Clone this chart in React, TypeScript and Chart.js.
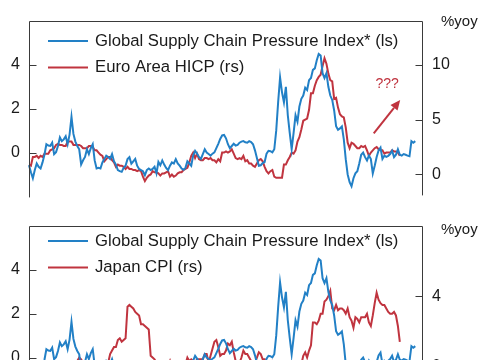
import React, { useEffect, useRef } from 'react';
import { Chart, registerables } from 'chart.js';

Chart.register(...registerables);

// ---------- data ----------
const START_YEAR = 2010;
const N_MONTHS = 205;
const months: string[] = [];
for (let k = 0; k < N_MONTHS; k++) {
  months.push(`${START_YEAR + Math.floor(k / 12)}-${String((k % 12) + 1).padStart(2, '0')}`);
}

// Global Supply Chain Pressure Index (advanced), left scale
const gscpi = [
  -0.58, -0.9, -1.17, -0.8, -0.5, -0.65, -0.73, -0.45, -0.1, 0.38,
  0.32, 0.3, 0.45, -0.07, 0.02, 0.3, 0.69, 0.52, 0.6, 0.74,
  0.38, 0.82, 1.63, 0.85, 0.5, 0.3, 0.15, -0.54, -0.35, -0.2,
  0.15, -0.07, 0.2, 0.38, -0.36, -0.73, -0.7, -0.73, -0.45, -0.3,
  -0.14, -0.2, -0.29, -0.07, -0.4, -0.55, -0.8, -0.85, -0.88, -0.7,
  -0.6, -0.3, -0.21, -0.51, -0.4, -0.29, -0.6, -0.75, -0.8, -0.85,
  -1.03, -0.8, -0.73, -0.8, -0.75, -0.65, -0.95, -0.43, -0.58, -0.36,
  -0.55, -0.7, -0.8, -0.6, -0.45, -0.5, -0.3, -0.5, -0.6, -0.73,
  -0.78, -0.7, -0.4, -0.5, -0.6, -0.14, 0.08, -0.05, -0.2, -0.29,
  -0.07, 0.15, 0.0, -0.07, -0.14, -0.05, 0.01, 0.2, 0.4, 0.62,
  0.78, 0.8, 0.65, 0.38, 0.2, 0.3, 0.4, 0.32, 0.35, 0.45,
  0.5, 0.52, 0.47, 0.45, 0.52, 0.48, 0.38, 0.1, -0.25, -0.6,
  -0.58, -0.48, -0.43, -0.05, 0.08, 0.06, 0.01, 0.15, 1.0, 2.3,
  3.43, 2.75, 2.29, 3.0, 1.7, 0.9, 0.15, 0.9, 1.7, 1.41,
  2.1, 2.45, 2.6, 2.96, 2.85, 3.3, 3.4, 3.77, 3.84, 4.21,
  4.5, 4.43, 3.62, 3.4, 3.62, 3.0, 2.6, 2.4, 1.92, 1.2,
  1.04, 1.1, 1.19, 0.6, -0.3, -1.0, -1.35, -1.54, -1.17, -0.95,
  -0.85, -0.5, -0.1, 0.0, -0.21, -0.36, -0.14, -0.3, -0.95, -0.6,
  -0.2, 0.1, 0.23, -0.29, -0.14, -0.2, -0.15, -0.07, 0.08, -0.21,
  -0.1, 0.15, -0.1, -0.14, -0.07, -0.1, -0.14, -0.17, 0.52, 0.45, 0.52,
];

// Euro Area HICP, %yoy, right scale
const euroHicp = [
  0.9, 0.8, 1.6, 1.6, 1.7, 1.5, 1.7, 1.6, 1.9, 1.9, 1.9, 2.2,
  2.3, 2.4, 2.7, 2.8, 2.7, 2.7, 2.6, 2.6, 3.0, 3.0, 3.0, 2.7,
  2.7, 2.7, 2.7, 2.6, 2.4, 2.4, 2.4, 2.6, 2.6, 2.5, 2.2, 2.2,
  2.0, 1.8, 1.7, 1.2, 1.4, 1.6, 1.6, 1.3, 1.1, 0.7, 0.9, 0.8,
  0.8, 0.7, 0.5, 0.7, 0.5, 0.5, 0.4, 0.4, 0.3, 0.4, 0.3, -0.2,
  -0.6, -0.3, -0.1, 0.0, 0.3, 0.2, 0.2, 0.1, -0.1, 0.1, 0.1, 0.2,
  0.3, -0.2, 0.0, -0.2, -0.1, 0.1, 0.2, 0.2, 0.4, 0.5, 0.6, 1.1,
  1.7, 2.0, 1.5, 1.9, 1.4, 1.3, 1.3, 1.5, 1.5, 1.4, 1.5, 1.3,
  1.3, 1.1, 1.4, 1.2, 2.0, 2.0, 2.1, 2.0, 2.1, 2.3, 1.9, 1.5,
  1.4, 1.5, 1.4, 1.7, 1.2, 1.3, 1.0, 1.0, 0.8, 0.7, 1.0, 1.3,
  1.4, 1.2, 0.7, 0.3, 0.1, 0.3, 0.4, -0.2, -0.3, -0.3, -0.3, -0.3,
  0.9, 0.9, 1.3, 1.6, 2.0, 1.9, 2.2, 3.0, 3.4, 4.1, 4.9, 5.0,
  5.1, 5.9, 7.4, 7.4, 8.1, 8.6, 8.9, 9.1, 9.9, 10.6, 10.1, 9.2,
  8.6, 8.5, 6.9, 7.0, 6.1, 5.5, 5.3, 5.2, 4.3, 2.9, 2.4, 2.9,
  2.8, 2.6, 2.4, 2.4, 2.6, 2.5, 2.6, 2.2, 1.7, 2.0, 2.2, 2.4,
  2.5, 2.3, 2.2, 2.2, 1.9, 2.0, 2.0, 2.0, 2.2, 2.1, 2.1, 2.0,
  1.7,
];

// Japan CPI, %yoy, right scale
const japanCpi = [
  -1.3, -1.1, -1.1, -1.2, -0.9, -0.7, -0.9, -0.9, -0.6, 0.2, 0.1, 0.0,
  0.0, 0.0, 0.0, 0.3, 0.3, 0.2, 0.2, 0.2, 0.0, -0.2, -0.5, -0.2,
  0.1, 0.3, 0.5, 0.4, 0.2, -0.2, -0.4, -0.5, -0.3, -0.4, -0.2, -0.1,
  -0.3, -0.7, -0.9, -0.7, -0.3, 0.2, 0.7, 0.9, 1.1, 1.1, 1.5, 1.6,
  1.4, 1.5, 1.6, 3.4, 3.5, 3.4, 3.3, 3.1, 3.0, 2.9, 2.4, 2.4,
  2.3, 2.2, 2.1, 0.6, 0.5, 0.4, 0.2, 0.2, 0.0, 0.3, 0.3, 0.2,
  0.0, 0.3, -0.1, -0.3, -0.5, -0.4, -0.4, -0.5, -0.5, 0.1, 0.5, 0.3,
  0.4, 0.3, 0.2, 0.4, 0.4, 0.4, 0.4, 0.7, 0.7, 0.2, 0.6, 1.0,
  1.4, 1.5, 1.1, 0.6, 0.7, 0.7, 0.9, 1.3, 1.2, 1.4, 0.8, 0.3,
  0.2, 0.2, 0.5, 0.9, 0.7, 0.7, 0.5, 0.3, 0.2, 0.2, 0.5, 0.8,
  0.7, 0.4, 0.4, 0.1, 0.1, 0.1, 0.3, 0.2, 0.0, -0.4, -0.9, -1.2,
  -0.6, -0.4, -0.2, -1.1, -0.8, -0.5, -0.3, -0.4, 0.2, 0.1, 0.6, 0.8,
  0.5, 0.9, 1.2, 2.5, 2.5, 2.4, 2.6, 3.0, 3.0, 3.7, 3.8, 4.0,
  4.3, 3.3, 3.2, 3.5, 3.2, 3.3, 3.3, 3.2, 3.0, 3.3, 2.8, 2.6,
  2.2, 2.8, 2.7, 2.5, 2.8, 2.8, 2.8, 3.0, 2.5, 2.3, 2.9, 3.6,
  4.2, 3.8, 3.6, 3.5, 3.5, 3.3, 3.1, 3.0, 3.0, 3.1, 2.9, 2.3,
  1.4,
];

const leftTicks = [0, 2, 4];
const rightTicksTop = [0, 5, 10];
const rightTicksBottom = [0, 4];

const gscpiLabel = 'Global Supply Chain Pressure Index* (ls)';
const euroLabel = 'Euro Area HICP (rs)';
const japanLabel = 'Japan CPI (rs)';
const yoyLabel = '%yoy';
const questionLabel = '???';

// annotation arrow in data units (x = month index, y = right axis)
const arrowFrom = { x: 178.5, y: 3.75 };
const arrowTo = { x: 192.2, y: 6.8 };
const questionAt = { x: 185.4, y: 8.26 };

// ---------- styles ----------
const BLUE = '#2280c6';
const RED = '#c0343f';
const AXIS = '#3a3a3a';
const TEXT = '#1a1a1a';
const FONT = '"Liberation Sans", Arial, sans-serif';

type PanelProps = {
  redLabel: string;
  redData: number[];
  rightMax: number;
  rightTicks: number[];
  legendTop: number;
  yoyOffset: number;
  annotate: boolean;
};

function makeDecor(p: PanelProps) {
  return {
    id: 'decor',
    afterDraw(chart: any) {
      const { ctx, chartArea: a, scales } = chart;
      const L = Math.round(a.left) + 0.5;
      const R = Math.round(a.right) - 0.5;
      const T = Math.round(a.top) + 0.5;
      ctx.save();
      ctx.strokeStyle = AXIS;
      ctx.lineWidth = 1;
      ctx.beginPath();
      ctx.moveTo(L, T);
      ctx.lineTo(R, T);
      ctx.moveTo(L, T);
      ctx.lineTo(L, a.bottom + 1);
      ctx.moveTo(R, T);
      ctx.lineTo(R, a.bottom - 1);
      scales.yL.ticks.forEach((t: any) => {
        const y = Math.round(scales.yL.getPixelForValue(t.value)) + 0.5;
        ctx.moveTo(L, y);
        ctx.lineTo(L + 7, y);
      });
      scales.yR.ticks.forEach((t: any) => {
        const y = Math.round(scales.yR.getPixelForValue(t.value)) + 0.5;
        ctx.moveTo(R - 7, y);
        ctx.lineTo(R, y);
      });
      ctx.stroke();

      // legend
      const items = [
        { label: gscpiLabel, color: BLUE },
        { label: p.redLabel, color: RED },
      ];
      ctx.font = `16.7px ${FONT}`;
      ctx.textBaseline = 'alphabetic';
      ctx.textAlign = 'left';
      items.forEach((it, k) => {
        const y = a.top + p.legendTop + k * 26.5;
        ctx.strokeStyle = it.color;
        ctx.lineWidth = 2;
        ctx.beginPath();
        ctx.moveTo(a.left + 19, y);
        ctx.lineTo(a.left + 59, y);
        ctx.stroke();
        ctx.fillStyle = TEXT;
        ctx.fillText(it.label, a.left + 66, y + 4.5);
      });

      // unit label
      ctx.font = `15px ${FONT}`;
      ctx.fillStyle = TEXT;
      ctx.fillText(yoyLabel, a.right + 18, a.top + p.yoyOffset);

      if (p.annotate) {
        const x0 = scales.x.getPixelForValue(arrowFrom.x);
        const y0 = scales.yR.getPixelForValue(arrowFrom.y);
        const x1 = scales.x.getPixelForValue(arrowTo.x);
        const y1 = scales.yR.getPixelForValue(arrowTo.y);
        const ang = Math.atan2(y1 - y0, x1 - x0);
        const head = 10;
        const bx = x1 - head * Math.cos(ang);
        const by = y1 - head * Math.sin(ang);
        ctx.strokeStyle = RED;
        ctx.fillStyle = RED;
        ctx.lineWidth = 2;
        ctx.beginPath();
        ctx.moveTo(x0, y0);
        ctx.lineTo(bx, by);
        ctx.stroke();
        ctx.beginPath();
        ctx.moveTo(x1, y1);
        ctx.lineTo(bx + 4.5 * Math.sin(ang), by - 4.5 * Math.cos(ang));
        ctx.lineTo(bx - 4.5 * Math.sin(ang), by + 4.5 * Math.cos(ang));
        ctx.closePath();
        ctx.fill();
        ctx.font = `14px ${FONT}`;
        ctx.textAlign = 'center';
        ctx.textBaseline = 'middle';
        ctx.fillText(
          questionLabel,
          scales.x.getPixelForValue(questionAt.x),
          scales.yR.getPixelForValue(questionAt.y)
        );
      }
      ctx.restore();
    },
  };
}

function Panel(p: PanelProps) {
  const ref = useRef<HTMLCanvasElement>(null);
  useEffect(() => {
    const tickFont = { family: FONT, size: 16 };
    const chart = new Chart(ref.current as HTMLCanvasElement, {
      type: 'line',
      data: {
        labels: months,
        datasets: [
          {
            label: gscpiLabel,
            data: gscpi,
            yAxisID: 'yL',
            borderColor: BLUE,
            borderWidth: 2,
            pointRadius: 0,
            tension: 0,
            fill: false,
          },
          {
            label: p.redLabel,
            data: p.redData,
            yAxisID: 'yR',
            borderColor: RED,
            borderWidth: 2,
            pointRadius: 0,
            tension: 0,
            fill: false,
          },
        ],
      },
      options: {
        responsive: false,
        animation: false,
        events: [],
        layout: { padding: { top: 21, bottom: 11, left: 0, right: 0 } },
        plugins: { legend: { display: false }, tooltip: { enabled: false } },
        scales: {
          x: { type: 'category', display: false },
          yL: {
            position: 'left',
            min: -2,
            max: 6,
            grid: { display: false, drawTicks: false },
            border: { display: false },
            ticks: { padding: 9, font: tickFont, color: TEXT },
            afterBuildTicks: (s: any) => {
              s.ticks = leftTicks.map((v) => ({ value: v }));
            },
            afterFit: (s: any) => {
              s.width = 29;
            },
          },
          yR: {
            position: 'right',
            min: -2,
            max: p.rightMax,
            grid: { display: false, drawTicks: false },
            border: { display: false },
            ticks: { padding: 9, font: tickFont, color: TEXT },
            afterBuildTicks: (s: any) => {
              s.ticks = p.rightTicks.map((v) => ({ value: v }));
            },
            afterFit: (s: any) => {
              s.width = 62;
            },
          },
        },
      } as any,
      plugins: [makeDecor(p)],
    });
    return () => chart.destroy();
  }, []);
  return <canvas ref={ref} width={485} height={215} style={{ display: 'block' }} />;
}

export default function App() {
  return (
    <div
      style={{
        position: 'fixed',
        left: 0,
        top: 0,
        width: 485,
        height: 360,
        overflow: 'hidden',
        background: '#fff',
      }}
    >
      <div style={{ position: 'absolute', left: 0, top: 0 }}>
        <Panel
          redLabel={euroLabel}
          redData={euroHicp}
          rightMax={14}
          rightTicks={rightTicksTop}
          legendTop={20}
          yoyOffset={5}
          annotate={true}
        />
      </div>
      <div style={{ position: 'absolute', left: 0, top: 205 }}>
        <Panel
          redLabel={japanLabel}
          redData={japanCpi}
          rightMax={8}
          rightTicks={rightTicksBottom}
          legendTop={15}
          yoyOffset={7.5}
          annotate={false}
        />
      </div>
    </div>
  );
}
